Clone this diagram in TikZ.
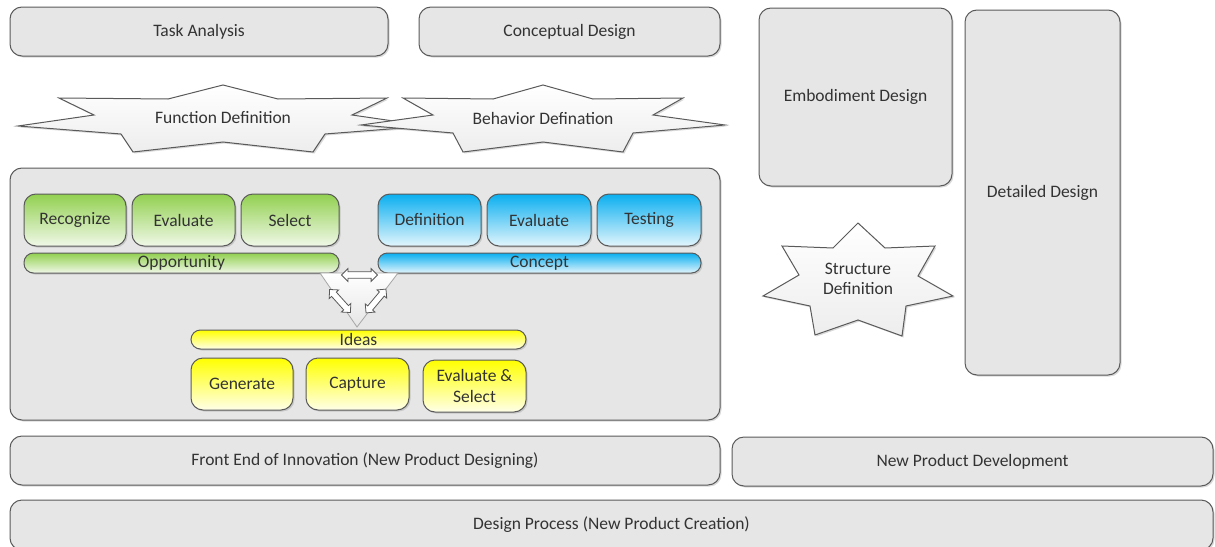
\documentclass[tikz,border=0pt]{standalone}
\usepackage{fontspec}
\setmainfont{Carlito}
\usetikzlibrary{shapes.geometric,shapes.arrows,shadows}
\definecolor{boxgray}{HTML}{E6E6E6}
\definecolor{edge}{HTML}{5A5A5A}
\definecolor{txt}{HTML}{333333}
\definecolor{gtop}{HTML}{92D050}
\definecolor{gbot}{HTML}{F0F8E8}
\definecolor{btop}{HTML}{0AAFF0}
\definecolor{bbot}{HTML}{E2F5FC}
\definecolor{ytop}{HTML}{FFFF00}
\definecolor{ybot}{HTML}{FFFFE8}
\definecolor{startop}{HTML}{FFFFFF}
\definecolor{starbot}{HTML}{EDEDED}
\tikzset{
  base/.style={draw=edge, line width=1pt, text=txt, font=\fontsize{17.5}{20.5}\selectfont,
    inner sep=0pt, align=center},
  shd/.style={drop shadow={shadow xshift=1.5pt, shadow yshift=-1.5pt, opacity=0.3}},
  graybox/.style={base, shd, fill=boxgray, rounded corners=12pt},
  greenbox/.style={base, shd, rounded corners=12pt, top color=gtop, bottom color=gbot},
  bluebox/.style={base, shd, rounded corners=12pt, top color=btop, bottom color=bbot},
  yellowbox/.style={base, shd, rounded corners=12pt, top color=ytop, bottom color=ybot},
  barshape/.style={rounded corners=9.5pt},
  starpath/.style={draw=edge, line width=1pt, top color=startop, bottom color=starbot, shd},
  startext/.style={text=txt, font=\fontsize{17.5}{20.5}\selectfont, align=center, inner sep=0pt},
  dblarrow/.style={double arrow, draw=edge, line width=0.8pt, fill=white,
    inner sep=2.8pt, double arrow head extend=3.2pt, minimum height=36pt}
}
\begin{document}
\begin{tikzpicture}[x=1pt,y=-1pt]
\useasboundingbox (0,0) rectangle (1215,546);
% top row
\node[graybox, minimum width=378pt, minimum height=49pt] (task) at (199,31.5) {Task Analysis};
\node[graybox, minimum width=301pt, minimum height=49pt] (concd) at (569.5,31.5) {Conceptual Design};
\node[graybox, minimum width=193pt, minimum height=178pt] (embod) at (855.5,97) {Embodiment Design};
\node[graybox, minimum width=155pt, minimum height=365pt] (detail) at (1042.5,192.5) {Detailed Design};
% stars
\path[starpath] (223,85) -- (278,99) -- (387,98) -- (352,115) -- (428,126) -- (325,134)
  -- (313,152) -- (223,142) -- (133,152) -- (121,134) -- (18,126) -- (94,115)
  -- (59,98) -- (168,99) -- cycle;
\node[startext] (fdef) at (223,118) {Function Definition};
\path[starpath] (543,85) -- (593,99) -- (683,98) -- (653,115) -- (725,125) -- (633,133)
  -- (623,152) -- (543,142) -- (463,152) -- (453,133) -- (361,125) -- (433,115)
  -- (403,98) -- (493,99) -- cycle;
\node[startext] (bdef) at (543,118) {Behavior Defination};
\path[starpath] (858,223) -- (885,248) -- (935,246) -- (918,276) -- (953,296) -- (906,306)
  -- (902,336) -- (858,320) -- (815,335) -- (810,306) -- (763,296) -- (799,275)
  -- (782,246) -- (833,248) -- cycle;
\node[startext] (sdef) at (858,279) {Structure\\Definition};
% main box
\node[graybox, minimum width=710pt, minimum height=252pt] (main) at (365,294) {};
% green
\node[greenbox, minimum width=102pt, minimum height=52pt] (recog) at (75,220) {Recognize};
\node[greenbox, minimum width=103pt, minimum height=52pt] (evalg) at (183.5,220) {Evaluate};
\node[greenbox, minimum width=98pt, minimum height=52pt] (select) at (290,220) {Select};
\node[greenbox, barshape, minimum width=315pt, minimum height=20pt] (opp) at (181.5,263) {Opportunity};
% blue
\node[bluebox, minimum width=103pt, minimum height=52pt] (defn) at (429.5,220) {Definition};
\node[bluebox, minimum width=104pt, minimum height=52pt] (evalb) at (539,220) {Evaluate};
\node[bluebox, minimum width=104pt, minimum height=52pt] (test) at (649,220) {Testing};
\node[bluebox, barshape, minimum width=323pt, minimum height=20pt] (concept) at (539.5,263) {Concept};
% yellow
\node[yellowbox, barshape, minimum width=335pt, minimum height=19pt] (ideas) at (358.5,339.5) {Ideas};
\node[yellowbox, minimum width=102pt, minimum height=52pt] (gen) at (242,384) {Generate};
\node[yellowbox, minimum width=103pt, minimum height=52pt] (capt) at (357.5,384) {Capture};
\node[yellowbox, minimum width=103pt, minimum height=52pt] (evsel) at (474.5,386) {Evaluate \&\\Select};
% triangle with arrows
\path[draw=gray!70, line width=0.8pt, top color=white, bottom color=gray!20] (320,273) -- (398,273) -- (357,327) -- cycle;
\node[dblarrow] (a1) at (359.5,275) {};
\node[dblarrow, minimum height=31pt, rotate=-48] (a2) at (340,301) {};
\node[dblarrow, minimum height=31pt, rotate=50] (a3) at (376,301) {};
% bottom rows
\node[graybox, minimum width=710pt, minimum height=49pt] (fei) at (365,460.5) {Front End of Innovation (New Product Designing)};
\node[graybox, minimum width=481pt, minimum height=49pt] (npd) at (972.5,461.5) {New Product Development};
\node[graybox, minimum width=1203pt, minimum height=50pt] (dp) at (611.5,525) {Design Process (New Product Creation)};
\end{tikzpicture}
\end{document}
